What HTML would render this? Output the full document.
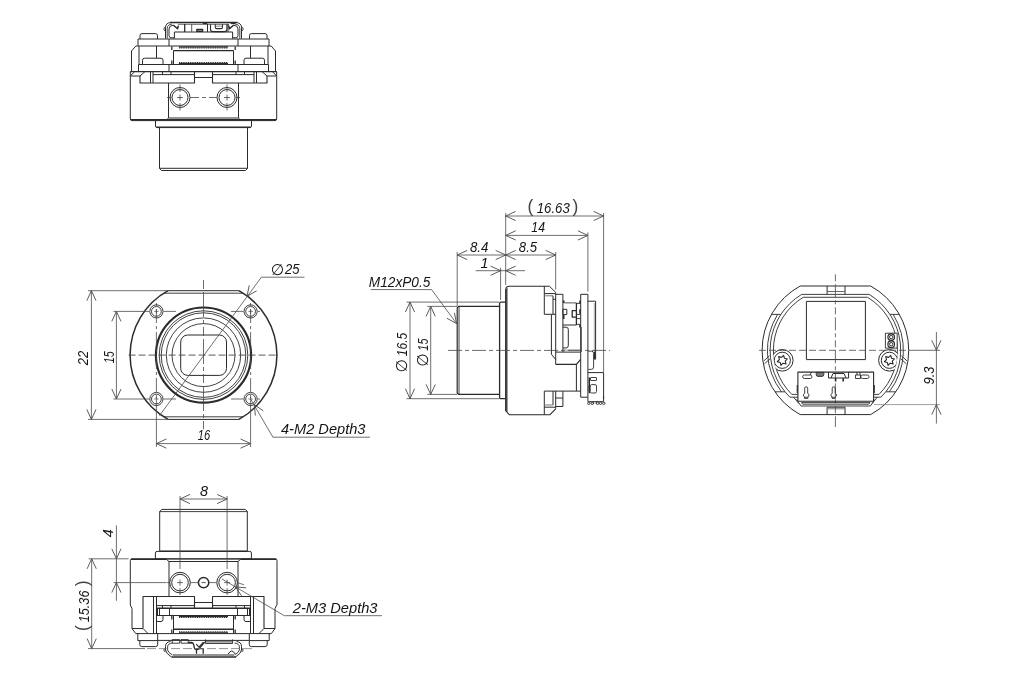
<!DOCTYPE html>
<html lang="en">
<head>
<meta charset="utf-8">
<title>Camera module outline drawing</title>
<style>
html,body{margin:0;padding:0;background:#fff;}
body{width:1030px;height:700px;overflow:hidden;}
svg{display:block;}
svg text{font-family:"Liberation Sans",sans-serif;font-style:italic;}
</style>
</head>
<body>
<svg width="1030" height="700" viewBox="0 0 1030 700" stroke-linecap="butt" stroke-linejoin="round" style="will-change:transform">
<rect x="0" y="0" width="1030" height="700" fill="#ffffff"/>
<line x1="170" y1="22.5" x2="237" y2="22.5" stroke="#2b2b2b" stroke-width="1.5"/>
<line x1="178" y1="24.3" x2="229" y2="24.3" stroke="#555" stroke-width="0.9"/>
<path d="M170.5,22.5 Q165.5,23.2 165.5,27.5 V38.6" stroke="#2b2b2b" stroke-width="1" fill="none"/>
<path d="M172,24 Q167.2,24.6 167.2,28.5 V38.6" stroke="#2b2b2b" stroke-width="0.9" fill="none"/>
<path d="M173,25.2 Q169,25.6 169,29 V35.6 Q169,37.6 171,37.8 H174.4" stroke="#2b2b2b" stroke-width="1" fill="none"/>
<path d="M165.5,26.8 A2.3,2.3 0 0 0 165.5,31.2" stroke="#2b2b2b" stroke-width="0.9" fill="none"/>
<path d="M173.2,25 L177.5,28.8 L178.4,25.6" stroke="#2b2b2b" stroke-width="1.5" fill="none"/>
<line x1="174.4" y1="32" x2="174.4" y2="38.6" stroke="#2b2b2b" stroke-width="1"/>
<path d="M236.5,22.5 Q241.5,23.2 241.5,27.5 V38.6" stroke="#2b2b2b" stroke-width="1" fill="none"/>
<path d="M235,24 Q239.8,24.6 239.8,28.5 V38.6" stroke="#2b2b2b" stroke-width="0.9" fill="none"/>
<path d="M234,25.2 Q238,25.6 238,29 V35.6 Q238,37.6 236,37.8 H232.6" stroke="#2b2b2b" stroke-width="1" fill="none"/>
<path d="M241.5,26.8 A2.3,2.3 0 0 1 241.5,31.2" stroke="#2b2b2b" stroke-width="0.9" fill="none"/>
<path d="M233.8,25 L229.5,28.8 L228.6,25.6" stroke="#2b2b2b" stroke-width="1.5" fill="none"/>
<line x1="232.6" y1="32" x2="232.6" y2="38.6" stroke="#2b2b2b" stroke-width="1"/>
<line x1="174.4" y1="32" x2="232.6" y2="32" stroke="#2b2b2b" stroke-width="1.2"/>
<line x1="184.7" y1="24" x2="184.7" y2="32" stroke="#2b2b2b" stroke-width="1.3"/>
<line x1="191.7" y1="24" x2="191.7" y2="32" stroke="#555" stroke-width="1"/>
<line x1="207.5" y1="24" x2="207.5" y2="32" stroke="#2b2b2b" stroke-width="1"/>
<line x1="228" y1="24" x2="228" y2="32" stroke="#2b2b2b" stroke-width="1"/>
<rect x="196.8" y="29.3" width="5.8" height="2.1" rx="0" stroke="#2b2b2b" stroke-width="1.3" fill="#999"/>
<path d="M210.5,24.3 V29.3 Q210.5,31.6 212.8,31.6 H224.6 Q226.9,31.6 226.9,29.3 V24.3" stroke="#2b2b2b" stroke-width="1.1" fill="none"/>
<path d="M215.3,24.3 V27.2 Q215.3,28.6 216.7,28.6 H221.1 Q222.5,28.6 222.5,27.2 V24.3" stroke="#2b2b2b" stroke-width="1.1" fill="none"/>
<line x1="215.3" y1="26.2" x2="222.5" y2="26.2" stroke="#666" stroke-width="0.8"/>
<line x1="202.8" y1="23.2" x2="207.2" y2="23.2" stroke="#2b2b2b" stroke-width="1.8"/>
<line x1="230.8" y1="23.2" x2="235.2" y2="23.2" stroke="#2b2b2b" stroke-width="1.8"/>
<path d="M140,39 V35.5 Q140,33.6 142,33.6 H155.5 Q157.5,33.6 157.5,35.5 V39" stroke="#2b2b2b" stroke-width="1" fill="none"/>
<path d="M267,39 V35.5 Q267,33.6 265,33.6 H251.5 Q249.5,33.6 249.5,35.5 V39" stroke="#2b2b2b" stroke-width="1" fill="none"/>
<rect x="138" y="39" width="131" height="7" rx="0" stroke="#2b2b2b" stroke-width="1" fill="none"/>
<line x1="169" y1="39" x2="169" y2="46" stroke="#2b2b2b" stroke-width="1"/>
<line x1="238" y1="39" x2="238" y2="46" stroke="#2b2b2b" stroke-width="1"/>
<path d="M138,46 H135.8 L131.5,51 V71.5" stroke="#2b2b2b" stroke-width="1" fill="none"/>
<line x1="139" y1="46" x2="139" y2="64.5" stroke="#2b2b2b" stroke-width="1"/>
<line x1="156.5" y1="46" x2="156.5" y2="58" stroke="#2b2b2b" stroke-width="1"/>
<path d="M142.5,64.5 V60.2 Q142.5,58.2 144.5,58.2 H161 Q163,58.2 163,60.2 V64.5" stroke="#2b2b2b" stroke-width="1" fill="none"/>
<line x1="173.5" y1="50.5" x2="173.5" y2="64.5" stroke="#2b2b2b" stroke-width="1"/>
<line x1="171.8" y1="46.5" x2="171.8" y2="50" stroke="#2b2b2b" stroke-width="1.3"/>
<line x1="171.8" y1="60.5" x2="171.8" y2="64" stroke="#2b2b2b" stroke-width="1.3"/>
<path d="M269,46 H271.2 L275.5,51 V71.5" stroke="#2b2b2b" stroke-width="1" fill="none"/>
<line x1="268" y1="46" x2="268" y2="64.5" stroke="#2b2b2b" stroke-width="1"/>
<line x1="250.5" y1="46" x2="250.5" y2="58" stroke="#2b2b2b" stroke-width="1"/>
<path d="M264.5,64.5 V60.2 Q264.5,58.2 262.5,58.2 H246 Q244,58.2 244,60.2 V64.5" stroke="#2b2b2b" stroke-width="1" fill="none"/>
<line x1="233.5" y1="50.5" x2="233.5" y2="64.5" stroke="#2b2b2b" stroke-width="1"/>
<line x1="235.2" y1="46.5" x2="235.2" y2="50" stroke="#2b2b2b" stroke-width="1.3"/>
<line x1="235.2" y1="60.5" x2="235.2" y2="64" stroke="#2b2b2b" stroke-width="1.3"/>
<line x1="179" y1="46.9" x2="228" y2="46.9" stroke="#2b2b2b" stroke-width="1.3"/>
<line x1="179" y1="47.9" x2="228" y2="47.9" stroke="#2b2b2b" stroke-width="1.2" stroke-dasharray="1.1 0.7"/>
<line x1="173.5" y1="50.6" x2="233.5" y2="50.6" stroke="#2b2b2b" stroke-width="1.4"/>
<line x1="179" y1="63.7" x2="228" y2="63.7" stroke="#2b2b2b" stroke-width="1.3"/>
<line x1="179" y1="62.7" x2="228" y2="62.7" stroke="#2b2b2b" stroke-width="1.2" stroke-dasharray="1.1 0.7"/>
<rect x="138.5" y="64.5" width="130" height="7" rx="0" stroke="#2b2b2b" stroke-width="1" fill="none"/>
<line x1="169" y1="64.5" x2="169" y2="71.5" stroke="#2b2b2b" stroke-width="1"/>
<line x1="238" y1="64.5" x2="238" y2="71.5" stroke="#2b2b2b" stroke-width="1"/>
<path d="M130.3,71.5 V119 Q130.3,120.6 132,120.6 H275 Q276.7,120.6 276.7,119 V71.5" stroke="#2b2b2b" stroke-width="1" fill="none"/>
<line x1="130.3" y1="71.6" x2="276.7" y2="71.6" stroke="#2b2b2b" stroke-width="1.3"/>
<line x1="131" y1="119.8" x2="276" y2="119.8" stroke="#2b2b2b" stroke-width="1.5"/>
<line x1="130.3" y1="76" x2="140" y2="76" stroke="#2b2b2b" stroke-width="1"/>
<line x1="130.6" y1="75.6" x2="134.6" y2="71.8" stroke="#2b2b2b" stroke-width="1"/>
<line x1="140" y1="76" x2="145" y2="71.6" stroke="#2b2b2b" stroke-width="1"/>
<path d="M140,76 V83 H194.5 V71.6" stroke="#2b2b2b" stroke-width="1.1" fill="none"/>
<line x1="150.5" y1="71.6" x2="150.5" y2="83" stroke="#2b2b2b" stroke-width="1"/>
<line x1="153" y1="71.6" x2="153" y2="83" stroke="#2b2b2b" stroke-width="1"/>
<line x1="153" y1="74.6" x2="194.5" y2="74.6" stroke="#2b2b2b" stroke-width="1"/>
<line x1="162.5" y1="71.6" x2="162.5" y2="74.6" stroke="#2b2b2b" stroke-width="1"/>
<line x1="171" y1="71.6" x2="171" y2="74.6" stroke="#2b2b2b" stroke-width="1"/>
<line x1="168.5" y1="83" x2="168.5" y2="118" stroke="#2b2b2b" stroke-width="1"/>
<line x1="168.5" y1="118" x2="166" y2="120.4" stroke="#2b2b2b" stroke-width="1"/>
<line x1="276.7" y1="76" x2="267" y2="76" stroke="#2b2b2b" stroke-width="1"/>
<line x1="276.4" y1="75.6" x2="272.4" y2="71.8" stroke="#2b2b2b" stroke-width="1"/>
<line x1="267" y1="76" x2="262" y2="71.6" stroke="#2b2b2b" stroke-width="1"/>
<path d="M267,76 V83 H212.5 V71.6" stroke="#2b2b2b" stroke-width="1.1" fill="none"/>
<line x1="256.5" y1="71.6" x2="256.5" y2="83" stroke="#2b2b2b" stroke-width="1"/>
<line x1="254" y1="71.6" x2="254" y2="83" stroke="#2b2b2b" stroke-width="1"/>
<line x1="254" y1="74.6" x2="212.5" y2="74.6" stroke="#2b2b2b" stroke-width="1"/>
<line x1="244.5" y1="71.6" x2="244.5" y2="74.6" stroke="#2b2b2b" stroke-width="1"/>
<line x1="236" y1="71.6" x2="236" y2="74.6" stroke="#2b2b2b" stroke-width="1"/>
<line x1="238.5" y1="83" x2="238.5" y2="118" stroke="#2b2b2b" stroke-width="1"/>
<line x1="238.5" y1="118" x2="241" y2="120.4" stroke="#2b2b2b" stroke-width="1"/>
<line x1="194.5" y1="77.5" x2="212.5" y2="77.5" stroke="#2b2b2b" stroke-width="1"/>
<line x1="168.5" y1="118" x2="238.5" y2="118" stroke="#2b2b2b" stroke-width="1"/>
<circle cx="180" cy="97.5" r="10" stroke="#2b2b2b" stroke-width="1" fill="none"/>
<circle cx="180" cy="97.5" r="8" stroke="#2b2b2b" stroke-width="1" fill="none"/>
<line x1="177" y1="97.5" x2="183" y2="97.5" stroke="#484848" stroke-width="0.8"/>
<line x1="180" y1="94.5" x2="180" y2="100.5" stroke="#484848" stroke-width="0.8"/>
<line x1="180" y1="84.5" x2="180" y2="92" stroke="#484848" stroke-width="0.8"/>
<line x1="180" y1="103" x2="180" y2="110.5" stroke="#484848" stroke-width="0.8"/>
<circle cx="227" cy="97.5" r="10" stroke="#2b2b2b" stroke-width="1" fill="none"/>
<circle cx="227" cy="97.5" r="8" stroke="#2b2b2b" stroke-width="1" fill="none"/>
<line x1="224" y1="97.5" x2="230" y2="97.5" stroke="#484848" stroke-width="0.8"/>
<line x1="227" y1="94.5" x2="227" y2="100.5" stroke="#484848" stroke-width="0.8"/>
<line x1="227" y1="84.5" x2="227" y2="92" stroke="#484848" stroke-width="0.8"/>
<line x1="227" y1="103" x2="227" y2="110.5" stroke="#484848" stroke-width="0.8"/>
<line x1="167" y1="97.5" x2="171.5" y2="97.5" stroke="#484848" stroke-width="0.8"/>
<line x1="190" y1="97.5" x2="217" y2="97.5" stroke="#484848" stroke-width="0.8" stroke-dasharray="9 3 4 3"/>
<line x1="235.5" y1="97.5" x2="240" y2="97.5" stroke="#484848" stroke-width="0.8"/>
<path d="M155.5,120.6 V126 Q155.5,127.6 157.2,127.6 H249.8 Q251.5,127.6 251.5,126 V120.6" stroke="#2b2b2b" stroke-width="1" fill="none"/>
<line x1="156.5" y1="127.3" x2="250.5" y2="127.3" stroke="#2b2b2b" stroke-width="1.6"/>
<path d="M159.5,127.6 V168.5 L161.5,170.5 H245.5 L247.5,168.5 V127.6" stroke="#2b2b2b" stroke-width="1" fill="none"/>
<line x1="159.5" y1="168.3" x2="247.5" y2="168.3" stroke="#2b2b2b" stroke-width="1"/>
<path d="M238.92,290.7 A73.5,73.5 0 0 1 238.92,419.4 M168.08,419.4 A73.5,73.5 0 0 1 168.08,290.7" stroke="#2b2b2b" stroke-width="1.5" fill="none"/>
<line x1="168.076" y1="290.7" x2="238.924" y2="290.7" stroke="#2b2b2b" stroke-width="1"/>
<line x1="168.076" y1="419.4" x2="238.924" y2="419.4" stroke="#2b2b2b" stroke-width="1"/>
<line x1="163.869" y1="293.2" x2="243.131" y2="293.2" stroke="#2b2b2b" stroke-width="0.9"/>
<line x1="163.869" y1="416.8" x2="243.131" y2="416.8" stroke="#2b2b2b" stroke-width="0.9"/>
<circle cx="203.5" cy="355.1" r="47.6" stroke="#2b2b2b" stroke-width="2.2" fill="none"/>
<circle cx="203.5" cy="355.1" r="44.3" stroke="#2b2b2b" stroke-width="0.9" fill="none"/>
<circle cx="203.5" cy="355.1" r="42.3" stroke="#2b2b2b" stroke-width="0.9" fill="none"/>
<circle cx="203.5" cy="355.1" r="37.2" stroke="#2b2b2b" stroke-width="0.9" fill="none"/>
<circle cx="203.5" cy="355.1" r="31.5" stroke="#2b2b2b" stroke-width="0.9" fill="none"/>
<rect x="180.7" y="335" width="45.8" height="40.4" rx="7" stroke="#2b2b2b" stroke-width="1" fill="none"/>
<circle cx="156.4" cy="311.4" r="6.6" stroke="#2b2b2b" stroke-width="0.9" fill="none"/>
<circle cx="156.4" cy="311.4" r="4.9" stroke="#2b2b2b" stroke-width="0.9" fill="none"/>
<line x1="154.2" y1="311.4" x2="158.6" y2="311.4" stroke="#4a4a4a" stroke-width="0.7"/>
<line x1="156.4" y1="309.2" x2="156.4" y2="313.6" stroke="#4a4a4a" stroke-width="0.7"/>
<circle cx="156.4" cy="399" r="6.6" stroke="#2b2b2b" stroke-width="0.9" fill="none"/>
<circle cx="156.4" cy="399" r="4.9" stroke="#2b2b2b" stroke-width="0.9" fill="none"/>
<line x1="154.2" y1="399" x2="158.6" y2="399" stroke="#4a4a4a" stroke-width="0.7"/>
<line x1="156.4" y1="396.8" x2="156.4" y2="401.2" stroke="#4a4a4a" stroke-width="0.7"/>
<circle cx="250.6" cy="311.4" r="6.6" stroke="#2b2b2b" stroke-width="0.9" fill="none"/>
<circle cx="250.6" cy="311.4" r="4.9" stroke="#2b2b2b" stroke-width="0.9" fill="none"/>
<line x1="248.4" y1="311.4" x2="252.8" y2="311.4" stroke="#4a4a4a" stroke-width="0.7"/>
<line x1="250.6" y1="309.2" x2="250.6" y2="313.6" stroke="#4a4a4a" stroke-width="0.7"/>
<circle cx="250.6" cy="399" r="6.6" stroke="#2b2b2b" stroke-width="0.9" fill="none"/>
<circle cx="250.6" cy="399" r="4.9" stroke="#2b2b2b" stroke-width="0.9" fill="none"/>
<line x1="248.4" y1="399" x2="252.8" y2="399" stroke="#4a4a4a" stroke-width="0.7"/>
<line x1="250.6" y1="396.8" x2="250.6" y2="401.2" stroke="#4a4a4a" stroke-width="0.7"/>
<line x1="128.6" y1="355.1" x2="278.6" y2="355.1" stroke="#484848" stroke-width="0.9" stroke-dasharray="7 3"/>
<line x1="203.5" y1="280" x2="203.5" y2="429.3" stroke="#484848" stroke-width="0.8" stroke-dasharray="9 3 25 3 4 3"/>
<line x1="156.4" y1="303" x2="156.4" y2="407" stroke="#484848" stroke-width="0.8" stroke-dasharray="3 3 14 3"/>
<line x1="250.6" y1="303" x2="250.6" y2="407" stroke="#484848" stroke-width="0.8" stroke-dasharray="3 3 14 3"/>
<line x1="163.5" y1="311.4" x2="176" y2="311.4" stroke="#4a4a4a" stroke-width="0.8"/>
<line x1="231" y1="311.4" x2="243.5" y2="311.4" stroke="#4a4a4a" stroke-width="0.8"/>
<line x1="257.5" y1="311.4" x2="260" y2="311.4" stroke="#4a4a4a" stroke-width="0.8"/>
<line x1="163.5" y1="399" x2="176" y2="399" stroke="#4a4a4a" stroke-width="0.8"/>
<line x1="231" y1="399" x2="243.5" y2="399" stroke="#4a4a4a" stroke-width="0.8"/>
<line x1="257.5" y1="399" x2="260" y2="399" stroke="#4a4a4a" stroke-width="0.8"/>
<line x1="88" y1="290.7" x2="168" y2="290.7" stroke="#4a4a4a" stroke-width="0.8"/>
<line x1="88" y1="419.4" x2="168" y2="419.4" stroke="#4a4a4a" stroke-width="0.8"/>
<line x1="91.4" y1="290.7" x2="91.4" y2="419.4" stroke="#4a4a4a" stroke-width="0.8"/>
<path d="M96.00,300.70 L91.40,290.70 L86.80,300.70" stroke="#4a4a4a" stroke-width="0.9" fill="none"/>
<path d="M86.80,409.40 L91.40,419.40 L96.00,409.40" stroke="#4a4a4a" stroke-width="0.9" fill="none"/>
<text x="88.10" y="365.30" font-size="14.4" fill="#141414" textLength="14.49" lengthAdjust="spacingAndGlyphs" transform="rotate(-90 88.10 365.30)">22</text>
<line x1="113.5" y1="311.4" x2="149.5" y2="311.4" stroke="#4a4a4a" stroke-width="0.8"/>
<line x1="113.5" y1="399" x2="149.5" y2="399" stroke="#4a4a4a" stroke-width="0.8"/>
<line x1="116.4" y1="311.4" x2="116.4" y2="399" stroke="#4a4a4a" stroke-width="0.8"/>
<path d="M121.00,321.40 L116.40,311.40 L111.80,321.40" stroke="#4a4a4a" stroke-width="0.9" fill="none"/>
<path d="M111.80,389.00 L116.40,399.00 L121.00,389.00" stroke="#4a4a4a" stroke-width="0.9" fill="none"/>
<text x="113.80" y="363.35" font-size="14.4" fill="#141414" textLength="12.15" lengthAdjust="spacingAndGlyphs" transform="rotate(-90 113.80 363.35)">15</text>
<line x1="156.4" y1="407" x2="156.4" y2="447" stroke="#4a4a4a" stroke-width="0.8"/>
<line x1="250.6" y1="407" x2="250.6" y2="447" stroke="#4a4a4a" stroke-width="0.8"/>
<line x1="156.4" y1="443.6" x2="250.6" y2="443.6" stroke="#4a4a4a" stroke-width="0.8"/>
<path d="M166.40,439.00 L156.40,443.60 L166.40,448.20" stroke="#4a4a4a" stroke-width="0.9" fill="none"/>
<path d="M240.60,448.20 L250.60,443.60 L240.60,439.00" stroke="#4a4a4a" stroke-width="0.9" fill="none"/>
<text x="197.85" y="440.00" font-size="14.4" fill="#141414" textLength="12.40" lengthAdjust="spacingAndGlyphs">16</text>
<line x1="261.4" y1="277.2" x2="304.5" y2="277.2" stroke="#4a4a4a" stroke-width="0.8"/>
<line x1="261.4" y1="277.2" x2="159.5" y2="415.6" stroke="#4a4a4a" stroke-width="0.8"/>
<path d="M249.22,285.42 L247.00,296.20 L256.63,290.87" stroke="#4a4a4a" stroke-width="0.9" fill="none"/>
<text x="270.75" y="274.60" font-size="15.5" fill="#141414" style="font-family:&quot;DejaVu Sans&quot;, &quot;Liberation Sans&quot;, sans-serif;">&#8709;</text>
<text x="285.00" y="274.00" font-size="14.4" fill="#141414" textLength="14.52" lengthAdjust="spacingAndGlyphs">25</text>
<line x1="272.9" y1="437.2" x2="370" y2="437.2" stroke="#4a4a4a" stroke-width="0.8"/>
<line x1="272.9" y1="437.2" x2="250.6" y2="399" stroke="#4a4a4a" stroke-width="0.8"/>
<path d="M263.31,410.92 L254.30,404.60 L255.37,415.56" stroke="#4a4a4a" stroke-width="0.9" fill="none"/>
<text x="281.00" y="434.00" font-size="14.4" fill="#141414" textLength="84.46" lengthAdjust="spacingAndGlyphs">4-M2 Depth3</text>
<path d="M499.4,306.4 H458.5 L457.2,307.8 V393 L458.5,394.4 H499.4" stroke="#2b2b2b" stroke-width="1.2" fill="none"/>
<line x1="459" y1="306.4" x2="459" y2="394.4" stroke="#2b2b2b" stroke-width="0.9"/>
<path d="M505.7,302.1 H500.8 Q499.6,302.1 499.6,303.3 V397.5 Q499.6,398.7 500.8,398.7 H505.7" stroke="#2b2b2b" stroke-width="1.3" fill="none"/>
<path d="M549.3,286.2 H509 Q505.9,286.2 505.9,289.3 V411 L509.3,414.7 H550 L555.7,408.8" stroke="#2b2b2b" stroke-width="1.1" fill="none"/>
<line x1="505.9" y1="289" x2="505.9" y2="411" stroke="#2b2b2b" stroke-width="1.4"/>
<line x1="507" y1="288" x2="507" y2="412" stroke="#2b2b2b" stroke-width="0.9"/>
<path d="M549.3,286.2 L555.7,292.3" stroke="#2b2b2b" stroke-width="1" fill="none"/>
<line x1="544.3" y1="286.2" x2="544.3" y2="314.3" stroke="#2b2b2b" stroke-width="1"/>
<line x1="544.3" y1="314.3" x2="555.7" y2="314.3" stroke="#2b2b2b" stroke-width="1"/>
<line x1="544.3" y1="293.6" x2="555" y2="293.6" stroke="#2b2b2b" stroke-width="1"/>
<line x1="544.3" y1="295.8" x2="553" y2="295.8" stroke="#777" stroke-width="1"/>
<line x1="553" y1="295.8" x2="553" y2="314.3" stroke="#2b2b2b" stroke-width="1"/>
<line x1="553" y1="299.3" x2="555.7" y2="299.3" stroke="#2b2b2b" stroke-width="1"/>
<path d="M551.4,314.3 V354.3 L555.7,359.5" stroke="#2b2b2b" stroke-width="1" fill="none"/>
<line x1="555.7" y1="292.3" x2="555.7" y2="364.4" stroke="#2b2b2b" stroke-width="1"/>
<path d="M555.7,294.3 H562.9 V352" stroke="#2b2b2b" stroke-width="1" fill="none"/>
<path d="M580.7,397.2 V294.3 H587.9 V397.2 Z" stroke="#2b2b2b" stroke-width="1" fill="none"/>
<path d="M587.9,301.2 H595.6 V359.5" stroke="#2b2b2b" stroke-width="1" fill="none"/>
<line x1="594.3" y1="303" x2="594.3" y2="351" stroke="#999" stroke-width="0.8"/>
<path d="M588.4,351.2 H591.6 Q593.6,351.2 593.6,353.2 V367 Q593.6,369.4 591.2,369.4 H588.4" stroke="#2b2b2b" stroke-width="0.9" fill="none"/>
<path d="M594.6,351.5 V359.5" stroke="#2b2b2b" stroke-width="1.3" fill="none"/>
<line x1="564.3" y1="302.9" x2="576.4" y2="302.9" stroke="#555" stroke-width="1"/>
<line x1="562.9" y1="325" x2="576.4" y2="325" stroke="#2b2b2b" stroke-width="1"/>
<line x1="576.4" y1="302.9" x2="576.4" y2="325" stroke="#2b2b2b" stroke-width="1.3"/>
<rect x="562.9" y="309.3" width="3.9" height="5.3" rx="0" stroke="#2b2b2b" stroke-width="1" fill="none"/>
<path d="M576.4,310.7 H572.2 V317.1 H576.4" stroke="#2b2b2b" stroke-width="1.3" fill="none"/>
<path d="M576.4,314.4 H580.7 M576.4,318.6 H580.7 M576.4,324.4 H580.7 M576.4,303.4 H580.7" stroke="#2b2b2b" stroke-width="0.9" fill="none"/>
<path d="M563.7,300.4 V302.9 M563.7,315 V319 M580,300.4 V303.4 M580,309.3 V313.8 M580,325 V327.4" stroke="#2b2b2b" stroke-width="1.6" fill="none"/>
<path d="M562.9,327.2 H566.2 Q568.3,327.2 568.3,329.5 V345.6 Q568.3,347.9 566.2,347.9 H562.9" stroke="#2b2b2b" stroke-width="1" fill="none"/>
<line x1="581.3" y1="327" x2="581.3" y2="352" stroke="#2b2b2b" stroke-width="0.8"/>
<line x1="555.7" y1="352.1" x2="580.7" y2="352.1" stroke="#2b2b2b" stroke-width="1"/>
<line x1="562.9" y1="350" x2="580.7" y2="350" stroke="#777" stroke-width="0.8"/>
<path d="M555.7,364.4 H576.4 L580.7,359.4" stroke="#2b2b2b" stroke-width="1.2" fill="none"/>
<line x1="576.4" y1="364.4" x2="576.4" y2="391.1" stroke="#2b2b2b" stroke-width="1"/>
<line x1="544.3" y1="391.1" x2="580.7" y2="391.1" stroke="#2b2b2b" stroke-width="1"/>
<line x1="544.3" y1="391.1" x2="544.3" y2="414.7" stroke="#2b2b2b" stroke-width="1"/>
<line x1="553" y1="391.1" x2="553" y2="405" stroke="#2b2b2b" stroke-width="1"/>
<line x1="555.7" y1="391.1" x2="555.7" y2="408.8" stroke="#2b2b2b" stroke-width="1"/>
<path d="M562.9,391.1 V406.5 H555.7" stroke="#2b2b2b" stroke-width="1" fill="none"/>
<line x1="555.7" y1="398" x2="562.9" y2="398" stroke="#2b2b2b" stroke-width="1"/>
<line x1="544.3" y1="405" x2="553" y2="405" stroke="#777" stroke-width="1"/>
<line x1="544.3" y1="407.2" x2="555.7" y2="407.2" stroke="#2b2b2b" stroke-width="1"/>
<path d="M587.9,372.6 H603.6 V401.5" stroke="#2b2b2b" stroke-width="1" fill="none"/>
<rect x="590.5" y="377.5" width="6" height="3" rx="0.5" stroke="#2b2b2b" stroke-width="0.9" fill="none"/>
<rect x="590.2" y="384.6" width="6.3" height="8.4" rx="1.5" stroke="#2b2b2b" stroke-width="0.9" fill="none"/>
<rect x="588.1" y="386.6" width="2" height="4.4" rx="0" stroke="#666" stroke-width="0.8" fill="none"/>
<line x1="589.3" y1="377.5" x2="589.3" y2="393.2" stroke="#2b2b2b" stroke-width="1.4"/>
<line x1="587.9" y1="397.2" x2="587.9" y2="401.5" stroke="#2b2b2b" stroke-width="1"/>
<circle cx="588.8" cy="403.3" r="1.2" stroke="#2b2b2b" stroke-width="0.9" fill="none"/>
<circle cx="592.2" cy="403.3" r="1.2" stroke="#2b2b2b" stroke-width="0.9" fill="none"/>
<circle cx="597.6" cy="403.3" r="1.2" stroke="#2b2b2b" stroke-width="0.9" fill="none"/>
<circle cx="600.6" cy="403.3" r="1.2" stroke="#2b2b2b" stroke-width="0.9" fill="none"/>
<circle cx="603.8" cy="403.3" r="1.2" stroke="#2b2b2b" stroke-width="0.9" fill="none"/>
<path d="M593.6,401.6 V404 M596.2,401.6 V404" stroke="#2b2b2b" stroke-width="0.9" fill="none"/>
<line x1="588" y1="401.6" x2="603.6" y2="401.6" stroke="#2b2b2b" stroke-width="0.9"/>
<path d="M603.2,396 q1.3,1.2 0,2.6" stroke="#2b2b2b" stroke-width="0.9" fill="none"/>
<line x1="448" y1="350.4" x2="610" y2="350.4" stroke="#484848" stroke-width="0.8" stroke-dasharray="14 3 4 3"/>
<line x1="505.7" y1="213" x2="505.7" y2="285" stroke="#4a4a4a" stroke-width="0.8"/>
<line x1="603.6" y1="213" x2="603.6" y2="372.6" stroke="#4a4a4a" stroke-width="0.8"/>
<line x1="587.9" y1="232.4" x2="587.9" y2="291.5" stroke="#4a4a4a" stroke-width="0.8"/>
<line x1="555.7" y1="252" x2="555.7" y2="289.5" stroke="#4a4a4a" stroke-width="0.8"/>
<line x1="457.2" y1="252" x2="457.2" y2="306" stroke="#4a4a4a" stroke-width="0.8"/>
<line x1="500.6" y1="267.8" x2="500.6" y2="300" stroke="#4a4a4a" stroke-width="0.8"/>
<line x1="505.7" y1="216" x2="603.6" y2="216" stroke="#4a4a4a" stroke-width="0.8"/>
<path d="M515.70,211.40 L505.70,216.00 L515.70,220.60" stroke="#4a4a4a" stroke-width="0.9" fill="none"/>
<path d="M593.60,220.60 L603.60,216.00 L593.60,211.40" stroke="#4a4a4a" stroke-width="0.9" fill="none"/>
<text x="527.60" y="212.40" font-size="17.5" fill="#444" style="font-style:normal;">(</text>
<text x="536.75" y="213.00" font-size="14.4" fill="#141414" textLength="32.97" lengthAdjust="spacingAndGlyphs">16.63</text>
<text x="572.55" y="212.40" font-size="17.5" fill="#444" style="font-style:normal;">)</text>
<line x1="505.7" y1="235.4" x2="587.9" y2="235.4" stroke="#4a4a4a" stroke-width="0.8"/>
<path d="M515.70,230.80 L505.70,235.40 L515.70,240.00" stroke="#4a4a4a" stroke-width="0.9" fill="none"/>
<path d="M577.90,240.00 L587.90,235.40 L577.90,230.80" stroke="#4a4a4a" stroke-width="0.9" fill="none"/>
<text x="531.35" y="232.10" font-size="14.4" fill="#141414" textLength="13.62" lengthAdjust="spacingAndGlyphs">14</text>
<line x1="505.7" y1="255" x2="555.7" y2="255" stroke="#4a4a4a" stroke-width="0.8"/>
<path d="M515.70,250.40 L505.70,255.00 L515.70,259.60" stroke="#4a4a4a" stroke-width="0.9" fill="none"/>
<path d="M545.70,259.60 L555.70,255.00 L545.70,250.40" stroke="#4a4a4a" stroke-width="0.9" fill="none"/>
<text x="518.85" y="251.50" font-size="14.4" fill="#141414" textLength="18.22" lengthAdjust="spacingAndGlyphs">8.5</text>
<line x1="457.2" y1="255" x2="505.7" y2="255" stroke="#4a4a4a" stroke-width="0.8"/>
<path d="M467.20,250.40 L457.20,255.00 L467.20,259.60" stroke="#4a4a4a" stroke-width="0.9" fill="none"/>
<path d="M495.70,259.60 L505.70,255.00 L495.70,250.40" stroke="#4a4a4a" stroke-width="0.9" fill="none"/>
<text x="469.95" y="251.50" font-size="14.4" fill="#141414" textLength="18.44" lengthAdjust="spacingAndGlyphs">8.4</text>
<line x1="475.7" y1="270.7" x2="525" y2="270.7" stroke="#4a4a4a" stroke-width="0.8"/>
<path d="M490.60,275.30 L500.60,270.70 L490.60,266.10" stroke="#4a4a4a" stroke-width="0.9" fill="none"/>
<path d="M515.70,266.10 L505.70,270.70 L515.70,275.30" stroke="#4a4a4a" stroke-width="0.9" fill="none"/>
<text x="480.50" y="267.80" font-size="14.4" fill="#141414">1</text>
<line x1="406.5" y1="302.1" x2="499" y2="302.1" stroke="#4a4a4a" stroke-width="0.8"/>
<line x1="406.5" y1="398.7" x2="499" y2="398.7" stroke="#4a4a4a" stroke-width="0.8"/>
<line x1="410" y1="302.1" x2="410" y2="398.7" stroke="#4a4a4a" stroke-width="0.8"/>
<path d="M414.60,312.10 L410.00,302.10 L405.40,312.10" stroke="#4a4a4a" stroke-width="0.9" fill="none"/>
<path d="M405.40,388.70 L410.00,398.70 L414.60,388.70" stroke="#4a4a4a" stroke-width="0.9" fill="none"/>
<text x="407.40" y="372.45" font-size="15.5" fill="#141414" style="font-family:&quot;DejaVu Sans&quot;, &quot;Liberation Sans&quot;, sans-serif;" transform="rotate(-90 407.40 372.45)">&#8709;</text>
<text x="407.00" y="356.25" font-size="14.4" fill="#141414" textLength="23.43" lengthAdjust="spacingAndGlyphs" transform="rotate(-90 407.00 356.25)">16.5</text>
<line x1="427.3" y1="306.4" x2="457" y2="306.4" stroke="#4a4a4a" stroke-width="0.8"/>
<line x1="427.3" y1="394.4" x2="457" y2="394.4" stroke="#4a4a4a" stroke-width="0.8"/>
<line x1="430.7" y1="306.4" x2="430.7" y2="394.4" stroke="#4a4a4a" stroke-width="0.8"/>
<path d="M435.30,316.40 L430.70,306.40 L426.10,316.40" stroke="#4a4a4a" stroke-width="0.9" fill="none"/>
<path d="M426.10,384.40 L430.70,394.40 L435.30,384.40" stroke="#4a4a4a" stroke-width="0.9" fill="none"/>
<text x="428.00" y="366.85" font-size="15.5" fill="#141414" style="font-family:&quot;DejaVu Sans&quot;, &quot;Liberation Sans&quot;, sans-serif;" transform="rotate(-90 428.00 366.85)">&#8709;</text>
<text x="427.60" y="350.65" font-size="14.4" fill="#141414" textLength="12.15" lengthAdjust="spacingAndGlyphs" transform="rotate(-90 427.60 350.65)">15</text>
<line x1="370.8" y1="289.6" x2="431.6" y2="289.6" stroke="#4a4a4a" stroke-width="0.8"/>
<line x1="431.6" y1="289.6" x2="456.6" y2="323.6" stroke="#4a4a4a" stroke-width="0.8"/>
<path d="M446.97,318.27 L456.60,323.60 L454.38,312.82" stroke="#4a4a4a" stroke-width="0.9" fill="none"/>
<text x="368.80" y="286.80" font-size="14.4" fill="#141414" textLength="61.52" lengthAdjust="spacingAndGlyphs">M12xP0.5</text>
<path d="M800.21,286 H870.59 A73.3,73.3 0 0 1 870.59,414.60 H800.21 A73.3,73.3 0 0 1 800.21,286 Z" stroke="#2b2b2b" stroke-width="1" fill="none"/>
<path d="M789.96,397.2 A65.3,65.3 0 0 1 801.65,294.4 H869.15 A65.3,65.3 0 0 1 880.84,397.2" stroke="#2b2b2b" stroke-width="0.9" fill="none"/>
<line x1="789.963" y1="397.2" x2="797.8" y2="397.2" stroke="#2b2b2b" stroke-width="0.9"/>
<line x1="880.837" y1="397.2" x2="873.6" y2="397.2" stroke="#2b2b2b" stroke-width="0.9"/>
<path d="M791.82,394.4 A62.0,62.0 0 0 1 803.23,297.3 H867.57 A62.0,62.0 0 0 1 878.98,394.4" stroke="#2b2b2b" stroke-width="0.9" fill="none"/>
<line x1="791.82" y1="394.4" x2="797.8" y2="394.4" stroke="#2b2b2b" stroke-width="0.9"/>
<line x1="878.98" y1="394.4" x2="873.6" y2="394.4" stroke="#2b2b2b" stroke-width="0.9"/>
<path d="M777.65,314.4 A68.0,68.0 0 0 0 781.53,391.8" stroke="#2b2b2b" stroke-width="0.9" fill="none"/>
<line x1="771.493" y1="314.4" x2="780.854" y2="314.4" stroke="#2b2b2b" stroke-width="0.9"/>
<line x1="774.979" y1="391.8" x2="784.983" y2="391.8" stroke="#2b2b2b" stroke-width="0.9"/>
<path d="M763.70,361.0 L769.40,355.8 M764.50,363.8 L770.00,358.8" stroke="#2b2b2b" stroke-width="0.9" fill="none"/>
<path d="M893.15,314.4 A68.0,68.0 0 0 1 889.27,391.8" stroke="#2b2b2b" stroke-width="0.9" fill="none"/>
<line x1="899.307" y1="314.4" x2="889.946" y2="314.4" stroke="#2b2b2b" stroke-width="0.9"/>
<line x1="895.821" y1="391.8" x2="885.817" y2="391.8" stroke="#2b2b2b" stroke-width="0.9"/>
<path d="M907.10,361.0 L901.40,355.8 M906.30,363.8 L900.80,358.8" stroke="#2b2b2b" stroke-width="0.9" fill="none"/>
<path d="M827.1,286 V294.4 M845,286 V294.4" stroke="#2b2b2b" stroke-width="1" fill="none"/>
<line x1="827.1" y1="291.5" x2="845" y2="291.5" stroke="#666" stroke-width="1"/>
<path d="M827.1,415 V407.2 H845 V415" stroke="#2b2b2b" stroke-width="1" fill="none"/>
<line x1="827.1" y1="408.8" x2="845" y2="408.8" stroke="#777" stroke-width="1"/>
<rect x="806.4" y="301.4" width="59" height="58.2" rx="0" stroke="#2b2b2b" stroke-width="1" fill="none"/>
<clipPath id="cw"><circle cx="835.4" cy="350.3" r="62.4"/></clipPath>
<g clip-path="url(#cw)">
<circle cx="782.3" cy="360.3" r="10.8" stroke="#2b2b2b" stroke-width="1" fill="#fff"/>
<circle cx="782.3" cy="360.3" r="8.1" stroke="#2b2b2b" stroke-width="1" fill="none"/>
<path d="M783.65,355.28 L784.42,358.18 L787.32,358.95 L785.20,361.08 L785.98,363.98 L783.08,363.20 L780.95,365.32 L780.18,362.42 L777.28,361.65 L779.40,359.52 L778.62,356.62 L781.52,357.40 Z" stroke="#2b2b2b" stroke-width="1.1" fill="none"/>
<circle cx="889.4" cy="360.3" r="10.8" stroke="#2b2b2b" stroke-width="1" fill="#fff"/>
<circle cx="889.4" cy="360.3" r="8.1" stroke="#2b2b2b" stroke-width="1" fill="none"/>
<path d="M890.75,355.28 L891.52,358.18 L894.42,358.95 L892.30,361.08 L893.08,363.98 L890.18,363.20 L888.05,365.32 L887.28,362.42 L884.38,361.65 L886.50,359.52 L885.72,356.62 L888.62,357.40 Z" stroke="#2b2b2b" stroke-width="1.1" fill="none"/>
</g>
<rect x="885.4" y="333.2" width="11.8" height="14.9" rx="0" stroke="#2b2b2b" stroke-width="0.9" fill="#fff"/>
<circle cx="891.2" cy="337.1" r="3.3" stroke="#2b2b2b" stroke-width="1.2" fill="none"/>
<circle cx="891.2" cy="337.1" r="1.7" stroke="#2b2b2b" stroke-width="1" fill="none"/>
<circle cx="891.2" cy="344.2" r="3.3" stroke="#2b2b2b" stroke-width="1.2" fill="none"/>
<circle cx="891.2" cy="344.2" r="1.7" stroke="#2b2b2b" stroke-width="1" fill="none"/>
<line x1="759" y1="350.3" x2="912" y2="350.3" stroke="#484848" stroke-width="0.8" stroke-dasharray="7 3"/>
<line x1="835.4" y1="274.3" x2="835.4" y2="427" stroke="#484848" stroke-width="0.8" stroke-dasharray="7 3 13 3 4 3"/>
<path d="M797.9,401 V372.1 H873.6 V401" stroke="#2b2b2b" stroke-width="1.1" fill="none"/>
<rect x="802.7" y="375" width="9.2" height="3.5" rx="1.7" stroke="#2b2b2b" stroke-width="0.9" fill="none"/>
<path d="M816.2,372.4 V374.5 Q816.2,376.4 818,376.4 H822 Q823.8,376.4 823.8,374.5 V372.4 Z" stroke="#2b2b2b" stroke-width="0.9" fill="#777"/>
<path d="M811.5,372.1 L810,375 M828.5,372.1 V378 H831 L833,373.5 H844 L846,378 H848.6 V372.1" stroke="#2b2b2b" stroke-width="1" fill="none"/>
<path d="M835.6,378 V381.5 M843.2,378 V381.5" stroke="#2b2b2b" stroke-width="1.6" fill="none"/>
<line x1="831" y1="378" x2="846" y2="378" stroke="#2b2b2b" stroke-width="1"/>
<rect x="855.5" y="375" width="5" height="3.5" rx="0" stroke="#2b2b2b" stroke-width="0.9" fill="none"/>
<rect x="860.8" y="375" width="8.2" height="3.5" rx="1.7" stroke="#2b2b2b" stroke-width="0.9" fill="none"/>
<path d="M857,372.1 V375 M860,372.1 V375" stroke="#2b2b2b" stroke-width="1" fill="none"/>
<path d="M804.7,393.4 V388.2 Q804.7,386.8 806.2,386.8 Q807.7,386.8 807.7,388.2 V393.4 Q809.0,393.8 809.0,395.2 Q809.0,396.6 807.9000000000001,396.8 V398.4 H804.5 V396.8 Q803.4000000000001,396.6 803.4000000000001,395.2 Q803.4000000000001,393.8 804.7,393.4 Z" stroke="#2b2b2b" stroke-width="0.9" fill="none"/>
<line x1="804.5" y1="397.2" x2="807.9" y2="397.2" stroke="#2b2b2b" stroke-width="0.9"/>
<path d="M832.2,393.4 V388.2 Q832.2,386.8 833.7,386.8 Q835.2,386.8 835.2,388.2 V393.4 Q836.5,393.8 836.5,395.2 Q836.5,396.6 835.4000000000001,396.8 V398.4 H832.0 V396.8 Q830.9000000000001,396.6 830.9000000000001,395.2 Q830.9000000000001,393.8 832.2,393.4 Z" stroke="#2b2b2b" stroke-width="0.9" fill="none"/>
<line x1="832" y1="397.2" x2="835.4" y2="397.2" stroke="#2b2b2b" stroke-width="0.9"/>
<line x1="797.3" y1="385" x2="797.3" y2="393" stroke="#2b2b2b" stroke-width="1.2"/>
<line x1="874.2" y1="385" x2="874.2" y2="393" stroke="#2b2b2b" stroke-width="1.2"/>
<line x1="797.9" y1="401.2" x2="873.6" y2="401.2" stroke="#2b2b2b" stroke-width="1.1"/>
<path d="M801.5,402.6 H870 L868.6,404.2 H802.8 Z" stroke="#2b2b2b" stroke-width="0.9" fill="none"/>
<path d="M796.5,399.5 L801,406 H870.4 L875,399.5" stroke="#2b2b2b" stroke-width="0.9" fill="none"/>
<path d="M793.5,397.2 L799,403.6 M877.3,397.2 L872,403.6" stroke="#2b2b2b" stroke-width="0.9" fill="none"/>
<line x1="912" y1="350.3" x2="940" y2="350.3" stroke="#4a4a4a" stroke-width="0.8"/>
<line x1="874" y1="404.6" x2="940" y2="404.6" stroke="#888" stroke-width="0.8"/>
<line x1="936.4" y1="332" x2="936.4" y2="423.6" stroke="#4a4a4a" stroke-width="0.8"/>
<path d="M931.80,340.30 L936.40,350.30 L941.00,340.30" stroke="#4a4a4a" stroke-width="0.9" fill="none"/>
<path d="M941.00,414.60 L936.40,404.60 L931.80,414.60" stroke="#4a4a4a" stroke-width="0.9" fill="none"/>
<text x="933.90" y="384.50" font-size="14.4" fill="#141414" textLength="17.97" lengthAdjust="spacingAndGlyphs" transform="rotate(-90 933.90 384.50)">9.3</text>
<path d="M159.7,551.4 V511.5 L161.7,509.4 H245.3 L247.3,511.5 V551.4" stroke="#2b2b2b" stroke-width="1" fill="none"/>
<line x1="159.7" y1="511.6" x2="247.3" y2="511.6" stroke="#2b2b2b" stroke-width="0.9"/>
<line x1="160" y1="551.3" x2="247" y2="551.3" stroke="#2b2b2b" stroke-width="1.6"/>
<path d="M155.4,558.8 V553 Q155.4,551.4 157,551.4 H249.8 Q251.4,551.4 251.4,553 V558.8" stroke="#2b2b2b" stroke-width="1" fill="none"/>
<path d="M130.3,605 V560.6 Q130.3,558.9 132,558.9 H275.3 Q277,558.9 277,560.6 V605" stroke="#2b2b2b" stroke-width="1" fill="none"/>
<line x1="131" y1="559.3" x2="166.4" y2="559.3" stroke="#2b2b2b" stroke-width="1.6"/>
<line x1="240.6" y1="559.3" x2="276.3" y2="559.3" stroke="#2b2b2b" stroke-width="1.6"/>
<line x1="155.4" y1="558.9" x2="251.4" y2="558.9" stroke="#2b2b2b" stroke-width="1"/>
<line x1="169" y1="561.5" x2="238" y2="561.5" stroke="#2b2b2b" stroke-width="1"/>
<line x1="166.4" y1="559.3" x2="169" y2="561.5" stroke="#2b2b2b" stroke-width="1"/>
<line x1="169" y1="561.5" x2="169" y2="596.5" stroke="#2b2b2b" stroke-width="1"/>
<path d="M130.3,605 L132,608.5 V628.5 L135.6,633.5" stroke="#2b2b2b" stroke-width="1" fill="none"/>
<line x1="132" y1="628.5" x2="143" y2="628.5" stroke="#2b2b2b" stroke-width="1"/>
<line x1="143" y1="628.5" x2="148" y2="633.5" stroke="#2b2b2b" stroke-width="1"/>
<path d="M143,628.5 V596.5 H194.5 V608" stroke="#2b2b2b" stroke-width="1.1" fill="none"/>
<line x1="153.5" y1="596.5" x2="153.5" y2="633.5" stroke="#2b2b2b" stroke-width="1"/>
<line x1="156.5" y1="596.5" x2="156.5" y2="633.5" stroke="#2b2b2b" stroke-width="1"/>
<line x1="156.5" y1="605.6" x2="194.5" y2="605.6" stroke="#2b2b2b" stroke-width="1"/>
<line x1="162.5" y1="605.6" x2="162.5" y2="608" stroke="#2b2b2b" stroke-width="1"/>
<line x1="171" y1="605.6" x2="171" y2="608" stroke="#2b2b2b" stroke-width="1"/>
<path d="M157.5,608.4 V615.5 M159.5,608.4 V615.5 M169.5,608.4 V615.5" stroke="#2b2b2b" stroke-width="1" fill="none"/>
<path d="M157,615.5 H163 V619.5 Q163,621.5 161,621.5 H157" stroke="#2b2b2b" stroke-width="1" fill="none"/>
<line x1="173.5" y1="615.5" x2="173.5" y2="633" stroke="#2b2b2b" stroke-width="1"/>
<line x1="171.8" y1="615.8" x2="171.8" y2="619.5" stroke="#2b2b2b" stroke-width="1.3"/>
<line x1="171.8" y1="629.5" x2="171.8" y2="633" stroke="#2b2b2b" stroke-width="1.3"/>
<path d="M137.8,633.5 V640.6 H157.7 V633.5" stroke="#2b2b2b" stroke-width="1" fill="none"/>
<path d="M139.8,640.6 V644.6 Q139.8,646.6 141.8,646.6 H155.7 Q157.7,646.6 157.7,644.6 V640.6" stroke="#2b2b2b" stroke-width="1" fill="none"/>
<line x1="240.6" y1="559.3" x2="238" y2="561.5" stroke="#2b2b2b" stroke-width="1"/>
<line x1="238" y1="561.5" x2="238" y2="596.5" stroke="#2b2b2b" stroke-width="1"/>
<path d="M276.7,605 L275,608.5 V628.5 L271.4,633.5" stroke="#2b2b2b" stroke-width="1" fill="none"/>
<line x1="275" y1="628.5" x2="264" y2="628.5" stroke="#2b2b2b" stroke-width="1"/>
<line x1="264" y1="628.5" x2="259" y2="633.5" stroke="#2b2b2b" stroke-width="1"/>
<path d="M264,628.5 V596.5 H212.5 V608" stroke="#2b2b2b" stroke-width="1.1" fill="none"/>
<line x1="253.5" y1="596.5" x2="253.5" y2="633.5" stroke="#2b2b2b" stroke-width="1"/>
<line x1="250.5" y1="596.5" x2="250.5" y2="633.5" stroke="#2b2b2b" stroke-width="1"/>
<line x1="250.5" y1="605.6" x2="212.5" y2="605.6" stroke="#2b2b2b" stroke-width="1"/>
<line x1="244.5" y1="605.6" x2="244.5" y2="608" stroke="#2b2b2b" stroke-width="1"/>
<line x1="236" y1="605.6" x2="236" y2="608" stroke="#2b2b2b" stroke-width="1"/>
<path d="M249.5,608.4 V615.5 M247.5,608.4 V615.5 M237.5,608.4 V615.5" stroke="#2b2b2b" stroke-width="1" fill="none"/>
<path d="M250,615.5 H244 V619.5 Q244,621.5 246,621.5 H250" stroke="#2b2b2b" stroke-width="1" fill="none"/>
<line x1="233.5" y1="615.5" x2="233.5" y2="633" stroke="#2b2b2b" stroke-width="1"/>
<line x1="235.2" y1="615.8" x2="235.2" y2="619.5" stroke="#2b2b2b" stroke-width="1.3"/>
<line x1="235.2" y1="629.5" x2="235.2" y2="633" stroke="#2b2b2b" stroke-width="1.3"/>
<path d="M269.2,633.5 V640.6 H249.3 V633.5" stroke="#2b2b2b" stroke-width="1" fill="none"/>
<path d="M267.2,640.6 V644.6 Q267.2,646.6 265.2,646.6 H251.3 Q249.3,646.6 249.3,644.6 V640.6" stroke="#2b2b2b" stroke-width="1" fill="none"/>
<line x1="194.5" y1="602.5" x2="212.5" y2="602.5" stroke="#2b2b2b" stroke-width="1"/>
<line x1="156.5" y1="608.2" x2="250.5" y2="608.2" stroke="#2b2b2b" stroke-width="1.4"/>
<line x1="159.5" y1="615.5" x2="247.5" y2="615.5" stroke="#2b2b2b" stroke-width="1"/>
<line x1="179" y1="616.3" x2="228" y2="616.3" stroke="#2b2b2b" stroke-width="1.3"/>
<line x1="179" y1="617.3" x2="228" y2="617.3" stroke="#2b2b2b" stroke-width="1.2" stroke-dasharray="1.1 0.7"/>
<line x1="173.5" y1="629.2" x2="233.5" y2="629.2" stroke="#2b2b2b" stroke-width="1.4"/>
<line x1="179" y1="632.9" x2="228" y2="632.9" stroke="#2b2b2b" stroke-width="1.3"/>
<line x1="179" y1="631.9" x2="228" y2="631.9" stroke="#2b2b2b" stroke-width="1.2" stroke-dasharray="1.1 0.7"/>
<line x1="135.6" y1="633.6" x2="271.4" y2="633.6" stroke="#2b2b2b" stroke-width="1"/>
<line x1="157.7" y1="640.4" x2="249.3" y2="640.4" stroke="#2b2b2b" stroke-width="1"/>
<circle cx="180" cy="582.6" r="10.3" stroke="#2b2b2b" stroke-width="1" fill="none"/>
<circle cx="180" cy="582.6" r="8.3" stroke="#2b2b2b" stroke-width="1" fill="none"/>
<line x1="177" y1="582.6" x2="183" y2="582.6" stroke="#4a4a4a" stroke-width="0.8"/>
<line x1="180" y1="579.6" x2="180" y2="585.6" stroke="#4a4a4a" stroke-width="0.8"/>
<line x1="180" y1="588" x2="180" y2="595" stroke="#4a4a4a" stroke-width="0.8"/>
<circle cx="227.1" cy="582.6" r="10.3" stroke="#2b2b2b" stroke-width="1" fill="none"/>
<circle cx="227.1" cy="582.6" r="8.3" stroke="#2b2b2b" stroke-width="1" fill="none"/>
<line x1="224.1" y1="582.6" x2="230.1" y2="582.6" stroke="#4a4a4a" stroke-width="0.8"/>
<line x1="227.1" y1="579.6" x2="227.1" y2="585.6" stroke="#4a4a4a" stroke-width="0.8"/>
<line x1="227.1" y1="588" x2="227.1" y2="595" stroke="#4a4a4a" stroke-width="0.8"/>
<circle cx="203.6" cy="582.6" r="5.2" stroke="#2b2b2b" stroke-width="1.5" fill="none"/>
<line x1="201.5" y1="582.6" x2="205.7" y2="582.6" stroke="#4a4a4a" stroke-width="0.9"/>
<line x1="190.5" y1="582.6" x2="198" y2="582.6" stroke="#4a4a4a" stroke-width="0.8"/>
<line x1="209" y1="582.6" x2="216.5" y2="582.6" stroke="#4a4a4a" stroke-width="0.8"/>
<line x1="167" y1="582.6" x2="169.5" y2="582.6" stroke="#4a4a4a" stroke-width="0.8"/>
<line x1="237.5" y1="582.6" x2="244" y2="584.8" stroke="#4a4a4a" stroke-width="0.8"/>
<line x1="171.5" y1="657" x2="236" y2="657" stroke="#2b2b2b" stroke-width="1.6"/>
<line x1="173" y1="655" x2="234" y2="655" stroke="#2b2b2b" stroke-width="1"/>
<path d="M170.5,641.5 Q165.5,642 165.5,646.5 V650 Q166,653.5 171.5,657" stroke="#2b2b2b" stroke-width="1" fill="none"/>
<path d="M172.5,643 Q167.6,643.5 167.6,647 V650 Q168,652.5 172.5,655" stroke="#2b2b2b" stroke-width="0.9" fill="none"/>
<path d="M165.5,648.5 A1.6,1.6 0 0 0 165.5,651.7" stroke="#2b2b2b" stroke-width="0.9" fill="none"/>
<path d="M236.5,641.5 Q241.5,642 241.5,646.5 V650 Q241,653.5 235.5,657" stroke="#2b2b2b" stroke-width="1" fill="none"/>
<path d="M234.5,643 Q239.4,643.5 239.4,647 V650 Q239,652.5 234.5,655" stroke="#2b2b2b" stroke-width="0.9" fill="none"/>
<path d="M241.5,648.5 A1.6,1.6 0 0 1 241.5,651.7" stroke="#2b2b2b" stroke-width="0.9" fill="none"/>
<rect x="172.2" y="639.6" width="7.5" height="3.6" rx="0" stroke="#2b2b2b" stroke-width="0.9" fill="none"/>
<rect x="181" y="639.6" width="7.2" height="3.6" rx="0" stroke="#2b2b2b" stroke-width="0.9" fill="none"/>
<line x1="188.2" y1="643.2" x2="193" y2="643.2" stroke="#2b2b2b" stroke-width="1"/>
<line x1="205.5" y1="641.9" x2="232.6" y2="641.9" stroke="#2b2b2b" stroke-width="0.9"/>
<line x1="205.5" y1="643.5" x2="232.6" y2="643.5" stroke="#2b2b2b" stroke-width="0.9"/>
<path d="M205.5,639.4 V643.5 M232.6,639.4 V643.5" stroke="#2b2b2b" stroke-width="0.9" fill="none"/>
<path d="M188.2,642.4 H191.5 Q193.2,642.6 193.6,644.5 L194.4,648 Q195,649.8 197,649.6 Q198.6,649.4 199.6,648 L204.6,642" stroke="#2b2b2b" stroke-width="1.3" fill="none"/>
<path d="M196.2,644.2 L199,647.2 L203.4,642.2" stroke="#2b2b2b" stroke-width="1.1" fill="none"/>
<path d="M196.5,653.8 V648.6 H203.2 V653.8" stroke="#2b2b2b" stroke-width="1.3" fill="none"/>
<path d="M228.2,654 Q230,651 231.7,651 Q233.4,651 235.2,654" stroke="#2b2b2b" stroke-width="1" fill="none"/>
<line x1="88" y1="648.6" x2="145" y2="648.6" stroke="#4a4a4a" stroke-width="0.8"/>
<line x1="147" y1="648.6" x2="254" y2="648.6" stroke="#777" stroke-width="0.8" stroke-dasharray="9 3"/>
<line x1="180" y1="496" x2="180" y2="569" stroke="#4a4a4a" stroke-width="0.8"/>
<line x1="227.1" y1="496" x2="227.1" y2="569" stroke="#4a4a4a" stroke-width="0.8"/>
<line x1="180" y1="499" x2="227.1" y2="499" stroke="#4a4a4a" stroke-width="0.8"/>
<path d="M190.00,494.40 L180.00,499.00 L190.00,503.60" stroke="#4a4a4a" stroke-width="0.9" fill="none"/>
<path d="M217.10,503.60 L227.10,499.00 L217.10,494.40" stroke="#4a4a4a" stroke-width="0.9" fill="none"/>
<text x="200.10" y="496.10" font-size="14.4" fill="#141414">8</text>
<line x1="88.6" y1="558.8" x2="128.6" y2="558.8" stroke="#4a4a4a" stroke-width="0.8"/>
<line x1="113.6" y1="582.6" x2="166.4" y2="582.6" stroke="#4a4a4a" stroke-width="0.8"/>
<line x1="116.4" y1="525.4" x2="116.4" y2="600.8" stroke="#4a4a4a" stroke-width="0.8"/>
<path d="M111.80,548.80 L116.40,558.80 L121.00,548.80" stroke="#4a4a4a" stroke-width="0.9" fill="none"/>
<path d="M121.00,592.60 L116.40,582.60 L111.80,592.60" stroke="#4a4a4a" stroke-width="0.9" fill="none"/>
<text x="113.20" y="537.20" font-size="14.4" fill="#141414" transform="rotate(-90 113.20 537.20)">4</text>
<line x1="91.7" y1="558.8" x2="91.7" y2="648.6" stroke="#4a4a4a" stroke-width="0.8"/>
<path d="M96.30,568.80 L91.70,558.80 L87.10,568.80" stroke="#4a4a4a" stroke-width="0.9" fill="none"/>
<path d="M87.10,638.60 L91.70,648.60 L96.30,638.60" stroke="#4a4a4a" stroke-width="0.9" fill="none"/>
<text x="88.20" y="631.00" font-size="17.5" fill="#444" style="font-style:normal;" transform="rotate(-90 88.20 631.00)">(</text>
<text x="88.90" y="622.25" font-size="14.4" fill="#141414" textLength="31.71" lengthAdjust="spacingAndGlyphs" transform="rotate(-90 88.90 622.25)">15.36</text>
<text x="88.20" y="586.25" font-size="17.5" fill="#444" style="font-style:normal;" transform="rotate(-90 88.20 586.25)">)</text>
<line x1="284.3" y1="615.7" x2="382" y2="615.7" stroke="#4a4a4a" stroke-width="0.8"/>
<line x1="284.3" y1="615.7" x2="222" y2="579" stroke="#4a4a4a" stroke-width="0.8"/>
<path d="M246.25,587.91 L235.30,586.80 L241.58,595.84" stroke="#4a4a4a" stroke-width="0.9" fill="none"/>
<text x="292.80" y="612.90" font-size="14.4" fill="#141414" textLength="84.71" lengthAdjust="spacingAndGlyphs">2-M3 Depth3</text>
</svg>
</body>
</html>
